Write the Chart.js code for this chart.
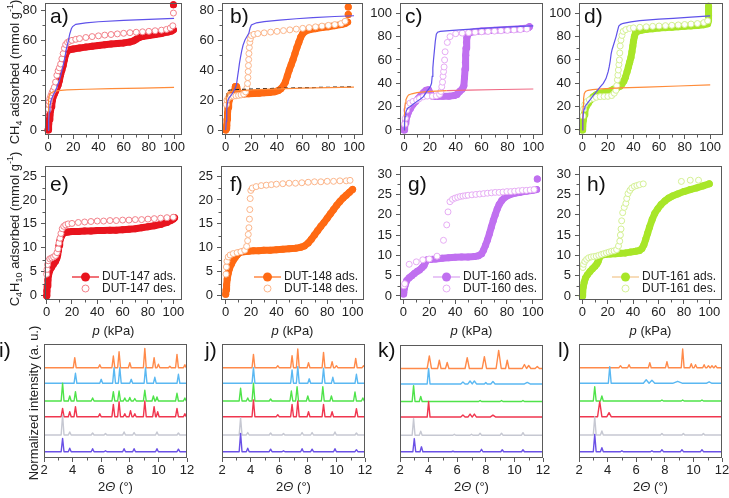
<!DOCTYPE html>
<html>
<head>
<meta charset="utf-8">
<title>CH4 / C4H10 isotherms and PXRD</title>
<script src="https://cdn.jsdelivr.net/npm/chart.js@4.4.0/dist/chart.umd.min.js"></script>
<style>
  body { margin: 0; background: #fff; }
  #fig { position: relative; width: 729px; height: 498px; overflow: hidden;
         font-family: "Liberation Sans", Arial, sans-serif; color: #222; }
  #fig canvas { position: absolute; }
  .lbl { position: absolute; white-space: nowrap; line-height: 1; }
  .panel { font-size: 21px; color: #111; }
  .ytitle { font-size: 13px; transform: translate(-50%, -50%) rotate(-90deg); }
  .xtitle { font-size: 13px; transform: translateX(-50%); }
  sub, sup { font-size: 9px; line-height: 0; }
</style>
</head>
<body>
<div id="fig"></div>
<script>
// ---- tick labels ----
const pTicks = [0, 20, 40, 60, 80, 100];
const pMinor = [10, 30, 50, 70, 90];
const ch4TicksAB = [0, 20, 40, 60, 80];
const ch4MinorAB = [10, 30, 50, 70];
const ch4TicksCD = [0, 20, 40, 60, 80, 100];
const ch4MinorCD = [10, 30, 50, 70, 90];
const c4TicksEF = [0, 5, 10, 15, 20, 25];
const c4MinorEF = [2.5, 7.5, 12.5, 17.5, 22.5];
const c4TicksGH = [0, 5, 10, 15, 20, 25, 30];
const c4MinorGH = [2.5, 7.5, 12.5, 17.5, 22.5, 27.5];
const thetaTicks = [2, 4, 6, 8, 10, 12];
const thetaMinor = [3, 5, 7, 9, 11];

// ---- legend labels ----
const legE = ['DUT-147 ads.', 'DUT-147 des.'];
const legF = ['DUT-148 ads.', 'DUT-148 des.'];
const legG = ['DUT-160 ads.', 'DUT-160 des.'];
const legH = ['DUT-161 ads.', 'DUT-161 des.'];

// ---- CH4 isotherms [p kPa, mmol/g] ----
const a_ads = [[0,0],[0.3,2],[0.6,4],[1,7],[1.5,10],[2,13],[2.5,15.5],[3,18],[3.5,20],[4,22],[5,24],[6,26],[7,28],[8,30],[9,33],[10,37],[11,40],[12,43],[13,47],[14,50.5],[15,52.5],[17,53.5],[20,54],[25,54.7],[30,55.3],[35,55.9],[40,56.4],[45,56.9],[50,57.3],[55,57.7],[60,58.1],[65,58.7],[68,59.5],[70,60.5],[72,61.6],[75,62.4],[80,63],[85,63.7],[90,64.4],[95,65.3],[98,66],[99.5,66.8],[99.5,null],[99.5,83.5]];
const a_des = [[0.3,14],[0.6,17],[1,19],[1.5,21],[2.3,23],[3.2,25],[4,26.5],[5,28.5],[6,32],[7,36.5],[8,39.5],[9,41.5],[10,44],[11,47.5],[12,51],[13,54.5],[14,57],[15.5,58.5],[17,59.2],[19,59.8],[22,60.5],[25,61],[30,61.7],[35,62.3],[40,62.8],[45,63.3],[50,63.7],[55,64.1],[60,64.5],[65,64.9],[70,65.2],[75,65.5],[80,65.8],[85,66.2],[90,66.6],[94,67.1],[97,68],[99,69.5],[99.5,78]];
const a_sim1 = [[0,0],[0.5,6],[1,12],[1.5,16],[2.5,20],[4,23],[5.5,25.5],[7,28.5],[9,33],[10.5,38],[12,43],[13.5,49],[14.5,54],[16,59],[17.2,64],[18.5,67.5],[19.5,69],[22,70.5],[30,71.5],[40,72.2],[60,73.1],[80,73.8],[100,74.4]];
const a_sim2 = [[0,0],[0.3,12],[0.6,20],[1,23],[2,24.5],[4,25.5],[8,26.3],[15,26.8],[30,27.2],[50,27.6],[75,28],[100,28.4]];

const b_ads = [[0,0],[0.4,1],[0.8,3],[1.1,7],[1.4,11],[1.8,15],[2.3,18],[3,20.5],[4,22.5],[5,23.5],[6.5,24.5],[7.5,29],[8.5,29],[10,24],[14,24],[18,24.2],[22,24.4],[26,24.6],[30,24.8],[34,25],[38,25.5],[41,26.3],[43,27.5],[45,29.5],[46.5,32],[48,36],[49.5,40],[51,43.5],[52.5,47],[54,51],[55.5,55],[57,58.5],[58.5,62],[60,64.3],[62,65.8],[65,66.8],[70,67.6],[75,68.3],[80,68.9],[85,69.6],[90,70.3],[93,71],[95,72],[95.5,null],[95.5,77],[95.5,null],[95.5,82]];
const b_des = [[0.5,17],[1,20],[2,21.5],[4,22.3],[6,22.6],[8,22.8],[10,23.1],[12,23.4],[14,24],[15.5,25.5],[16.5,28],[17,31],[17.3,35],[17.5,39],[17.7,43],[17.9,47],[18.1,51],[18.4,55],[18.8,58.5],[19.3,61],[20,63],[22,63.8],[25,64.3],[30,64.8],[35,65.3],[40,65.8],[45,66.3],[50,66.8],[55,67.3],[60,67.8],[65,68.3],[70,68.8],[75,69.3],[80,69.8],[85,70.3],[90,71],[93,72.5]];
const b_sim1 = [[0,0],[0.4,6],[0.8,13],[1.2,17],[1.8,20],[3,22],[4.5,23.5],[6,25.5],[7.5,28],[8.5,31],[9.3,36],[10,40],[10.7,44.5],[11.5,48.5],[12.5,53],[13.5,56.5],[15,60],[17,63],[18,64.5],[19,68],[20,70],[24,71.5],[30,72.3],[42,73.3],[55,74.2],[68,75],[85,75.7],[100,76.2]];
const b_sim2 = [[0,0],[0.3,10],[0.6,20],[1,24],[2,25.3],[4,25.8],[10,26.3],[20,26.8],[40,27.4],[60,27.9],[80,28.3],[100,28.6]];
const b_sim3 = [[0.8,22],[1.2,26],[3,26.6],[10,27],[30,27.6],[60,28.2],[100,28.8]];

const c_ads = [[0,0],[0.5,3],[1,6],[1.5,8.6],[2.5,12.5],[3.5,15.5],[5,18.5],[7,22],[9,24.5],[11,27],[13,29.5],[15,32],[17,34],[19,34.5],[20.5,31],[22,29],[25,28.6],[30,28.8],[35,29],[39,29.5],[41,30.5],[43,33],[45,35],[46.3,38],[46.8,45],[47.2,52],[47.5,58],[47.8,64],[48,70],[48.3,75],[48.7,79],[49.5,82],[51,83.5],[55,84.3],[60,84.8],[70,85.5],[80,86.1],[90,86.8],[96,87.5],[97,88.5]];
const c_des = [[0.5,5],[1,10],[2,17],[3,20.5],[4.6,23],[7,24.5],[9.8,25.7],[12,27],[15,28.5],[18,29],[22,29],[25,29.3],[27.5,30.5],[28.5,33],[29.2,37],[29.8,41],[30.2,46],[30.6,50],[31,54],[31.4,60],[31.8,67],[33.5,75],[35.6,80],[40,82.5],[45,83],[50,83.4],[55,83.8],[60,84.1],[65,84.4],[70,84.7],[75,85],[80,85.3],[85,85.7],[90,86],[95,86.5]];
const c_sim1 = [[0,0],[0.4,6],[0.8,11.4],[1.4,15],[2,17],[3,18.8],[4.6,20],[7,22],[9.8,24.3],[12.5,26.3],[15,28.6],[17.5,32.9],[19,35],[20.5,37.5],[21.3,40],[21.8,46],[22.3,53],[22.8,60],[23.5,68],[24.2,76],[25,82],[26,83.8],[28,84.5],[35,85.2],[43,85.7],[55,86.6],[70,87.7],[85,88.5],[100,89.2]];
const c_sim2 = [[0,0],[0.3,10],[0.6,18],[1,23],[1.5,26],[2.5,28.5],[3.5,30],[6,31],[10,32],[17.5,32.9],[25,33.3],[33,33.7]];
const c_sim3 = [[33,33.7],[50,34.2],[75,34.7],[100,35.1]];

const d_ads = [[0,0],[0.3,3],[0.8,8.6],[1.4,13],[2,17],[3,20],[4.7,23],[6.5,26],[8.6,28.5],[10.5,30],[12.5,31],[14.5,31.5],[16.5,32],[19,32.5],[22,33.5],[24.5,35],[27,36],[29.5,37.5],[31,39.5],[32.5,42],[33.8,45.5],[35,50],[36,54],[37,58],[38,62],[38.8,67],[39.5,72],[40,76],[40.7,80],[41.5,83],[43,84.5],[46,85.5],[50,86.2],[55,86.8],[60,87.3],[65,87.7],[70,88.1],[75,88.5],[80,88.8],[85,89.2],[90,89.6],[95,90.2],[98,91],[98.7,94],[98.7,98],[98.7,102],[98.7,106]];
const d_des = [[0.5,12],[1,18],[2,22],[3.4,24.3],[5.5,25.8],[8.6,27],[11,28],[14,28.6],[17,28.7],[20,28.8],[23,29.5],[25,31.5],[26.3,34],[26.9,38],[27.4,43],[27.8,47],[28.2,51.4],[28.6,56],[29,60],[29.3,66],[29.6,72],[30.2,77],[31,81],[32,84.5],[34,86],[37,87],[40,87.5],[45,88],[50,88.4],[55,88.8],[60,89.1],[65,89.4],[70,89.7],[75,90],[80,90.4],[85,90.8],[90,91.2],[95,92],[98,93.5]];
const d_sim1 = [[0,0],[0.4,8],[0.8,14.3],[1.4,18],[2,20],[4,23],[6,25.7],[8.5,29.5],[11.2,33],[14,37],[16.4,40],[18.5,44],[20.2,50],[21,54],[21.8,59],[22.5,65],[23.3,69],[24.8,74.3],[26.4,80],[27.5,85],[28.5,89],[30,90.5],[32,91.4],[38,92.7],[45,93.7],[60,94.9],[71,95.7],[85,96.7],[100,97.7]];
const d_sim2 = [[0,0],[0.3,10],[0.6,20],[1,27],[1.5,31],[2.5,33],[4.5,34],[8,34.6],[15,35.2],[30,36],[50,36.8],[75,37.7],[100,38.6]];

// ---- C4H10 isotherms [p kPa, mmol/g] ----
const e_ads = [[0,0],[0.2,1],[0.5,2],[1,3.3],[1.5,4.3],[2.5,5.3],[4,6],[5.5,6.6],[7,7.2],[8,7.8],[8.7,8.5],[9.3,9.5],[9.8,10.5],[10.3,11.3],[11,12],[12,12.6],[13,13],[14.5,13.2],[17,13.3],[20,13.4],[25,13.4],[30,13.5],[35,13.5],[40,13.6],[45,13.6],[50,13.7],[55,13.7],[60,13.8],[65,13.9],[70,14],[75,14.2],[80,14.4],[85,14.6],[90,14.9],[95,15.3],[98,15.7],[100,16],[101,16.3]];
const e_des = [[0,4.5],[0.3,5.5],[0.7,6.5],[1.3,7.3],[2.5,7.7],[4,7.9],[5.5,8.1],[7,8.4],[8.2,9],[9,9.8],[9.7,11],[10.5,12],[11.3,13],[12.3,14],[13.5,14.5],[15,14.8],[17,15],[20,15.1],[25,15.3],[30,15.4],[35,15.5],[40,15.6],[45,15.6],[50,15.7],[55,15.7],[60,15.8],[65,15.8],[70,15.9],[75,15.9],[80,16],[85,16.1],[90,16.2],[95,16.3],[100,16.4]];
const f_ads = [[0,0.3],[0.3,1.2],[0.7,2.2],[1.2,3.5],[2,4.7],[3,5.7],[4.5,6.6],[6,7.4],[7.5,8],[9,8.5],[11,9],[14,9.2],[18,9.3],[22,9.4],[26,9.4],[30,9.5],[35,9.5],[40,9.6],[45,9.7],[50,9.8],[55,9.9],[59,10.1],[62,10.4],[65,11],[67.5,11.8],[70,12.7],[72.5,13.6],[75,14.5],[77.5,15.3],[80,16.2],[82.5,17.1],[85,18],[87.5,18.9],[90,19.7],[92.5,20.4],[95,21],[97.5,21.6],[100,22.2]];
const f_des = [[0.2,4.5],[0.5,6],[1,7.2],[2,8.1],[3.5,8.5],[6,8.8],[9,9],[12,9.2],[15,9.5],[16.5,10.3],[17.3,11.5],[17.8,12.8],[18.3,14.2],[18.7,16],[19,18],[19.3,20.3],[19.8,22],[21,22.5],[24,22.8],[28,23],[32,23.1],[36,23.2],[40,23.3],[45,23.4],[50,23.5],[55,23.5],[60,23.6],[65,23.7],[70,23.8],[75,23.8],[80,23.9],[85,23.9],[90,24],[95,24],[98,24.1]];
const g_ads = [[0,0.5],[0.3,0.9],[0.8,1.9],[1.5,2.8],[2.6,3.8],[4.5,4.5],[6.5,5],[8.5,5.5],[10.5,6],[12.5,6.4],[14.5,7],[16,7.5],[17,8.3],[18.5,8.9],[21,9],[25,9.1],[30,9.3],[35,9.4],[40,9.5],[45,9.6],[50,9.6],[55,9.7],[58,9.9],[60.5,10.4],[62,11.3],[63.5,12.5],[65,13.8],[66.5,15.3],[68,17],[69.5,18.6],[71,20],[72.5,21.4],[74,22.5],[76,23.5],[78.5,24.3],[82,24.9],[86,25.3],[90,25.5],[95,25.8],[100,26],[103,26.2],[103.5,null],[103.5,28.8]];
const g_des = [[0.3,2.5],[1,3],[4.5,7.8],[10,8.4],[15,8.9],[20,9.1],[26,9.8],[31,13.7],[33.5,17.5],[34.5,20.7],[36,23.2],[38,23.8],[40,24.1],[42,24.3],[44,24.5],[46,24.6],[48,24.7],[50,24.8],[53,24.9],[56,25],[59,25.1],[62,25.2],[65,25.3],[68,25.4],[71,25.5],[74,25.5],[77,25.6],[80,25.7],[83,25.7],[86,25.8],[89,25.9],[92,26],[95,26],[98,26.1],[101,26.2]];
const h_ads = [[0,0],[0.3,1],[0.8,2.3],[1.5,3.4],[2.5,4.4],[4,5.2],[6,6],[8,6.7],[10,7.3],[11.5,7.9],[12.5,8.5],[13.2,9.2],[14,9.8],[15.5,10.1],[18,10.2],[22,10.3],[26,10.4],[30,10.5],[34,10.6],[38,10.8],[42,11],[45,11.2],[47,11.7],[48.5,12.6],[50,14],[51.5,15.5],[53,17],[55,18.8],[57,20.3],[59.5,21.5],[62,22.5],[65,23.4],[68,24.1],[71,24.6],[75,25.1],[80,25.7],[85,26.2],[90,26.6],[95,27.1],[100,27.6]];
const h_des = [[0.5,7],[1,7.8],[2,8.5],[3.4,9],[5,9.4],[7,9.6],[9,9.7],[11,9.8],[13,10],[15,10.2],[17,10.4],[19,10.6],[21,10.8],[23,11],[25,11.1],[27,11.4],[28.5,12.3],[29.5,13.5],[30,15],[30.5,16.5],[31,18.5],[31.8,20.5],[33,21.8],[34.3,22.8],[35,24],[36,25.2],[37.5,26],[39,26.6],[41,27],[43,27.2],[45,27.4],[48,27.6],[78,28.2],[85,28.5],[91.5,28.5]];

// ---- PXRD peaks [2theta, height, (breadth)], traces bottom to top ----
const i_blue = [[3.3,1.33],[3.8,0.35],[5.4,0.3],[6.3,0.1],[7.6,0.3],[8.3,0.3],[9.9,0.3],[11.4,0.25]];
const i_gray = [[3.3,2.0],[3.8,0.3],[5.4,0.2],[6.3,0.15],[7.6,0.3],[8.3,0.25],[9.9,0.3],[11.4,0.2]];
const i_red = [[3.3,0.83],[3.8,0.5],[4.2,1.0],[5.9,0.3],[6.85,1.23],[7.25,1.5],[7.65,0.3],[8.05,0.6],[8.35,0.3],[9.05,1.57],[9.7,1.0],[9.95,0.5],[11.3,0.83],[11.85,0.3]];
const i_green = [[3.3,1.77],[3.8,0.5],[4.2,0.93],[5.4,0.3],[6.85,0.93],[7.25,1.0],[7.65,0.3],[8.0,0.35],[8.35,0.25],[9.05,1.07],[9.65,0.5],[9.9,0.4],[11.3,0.77],[11.85,0.3]];
const i_lblue = [[4.2,1.0],[6.0,0.4],[6.9,1.57],[7.3,1.57],[8.1,0.4],[9.1,1.57],[9.75,0.6],[11.4,0.9]];
const i_orange = [[4.15,1.0],[5.9,0.3],[6.85,1.17],[7.25,1.6],[8.0,0.5],[9.05,1.93],[9.7,1.0],[10.0,0.35],[10.8,0.15],[11.3,1.33],[11.85,0.3]];

const j_blue = [[3.3,1.83],[3.8,0.35],[5.4,0.25],[6.3,0.1],[7.6,0.3],[8.3,0.25],[9.9,0.3],[11.4,0.2]];
const j_gray = [[3.3,1.73],[3.8,0.25],[5.4,0.2],[6.3,0.15],[7.6,0.25],[8.3,0.25],[9.9,0.3],[11.4,0.2]];
const j_red = [[4.2,1.67],[5.9,0.2],[6.9,1.23],[7.3,1.57],[8.05,0.5],[9.1,1.23],[9.7,0.5],[11.4,0.8]];
const j_green = [[3.3,1.27],[3.8,0.3],[4.2,1.77],[5.4,0.2],[6.85,1.0],[7.25,1.43],[8.0,0.5],[9.05,1.43],[9.65,0.5],[11.3,0.9],[11.85,0.3]];
const j_lblue = [[4.2,1.57],[6.9,1.33],[7.3,1.67],[8.1,0.45],[9.1,1.5],[9.75,0.6],[11.4,0.9]];
const j_orange = [[4.2,1.33],[5.9,0.2],[6.9,1.2],[7.3,1.87],[8.05,0.5],[9.1,1.53],[9.7,0.6],[10.0,0.2],[11.35,0.93],[11.9,0.2]];

const k_blue = [[3.0,1.33],[3.5,0.5],[5.7,0.05],[7.7,0.25],[9.15,0.2],[10.6,0.2]];
const k_gray = [[2.95,1.67],[3.45,0.4],[5.8,0.1],[7.0,0.1],[7.6,0.2],[9.1,0.2],[10.6,0.25]];
const k_red = [[4.0,1.57],[6.4,0.2,0.15],[6.9,0.3,0.15],[7.2,0.3,0.15],[8.5,0.2,0.2]];
const k_green = [[2.95,1.6],[3.45,0.5],[7.6,0.1],[9.1,0.1],[10.6,0.1]];
const k_lblue = [[4.0,1.57],[6.4,0.2,0.15],[6.9,0.3,0.15],[7.2,0.3,0.15],[8.0,0.15],[8.5,0.25,0.15],[10.9,0.15,0.2]];
const k_orange = [[4.05,1.27,0.15],[4.75,0.83,0.12],[5.3,0.6,0.12],[6.7,1.1,0.15],[7.9,1.2,0.15],[8.9,1.83,0.18],[9.5,0.83,0.12],[10.7,0.4,0.15],[11.0,0.3,0.15],[11.6,0.2,0.15]];

const l_blue = [[3.1,1.73],[3.6,0.4],[5.0,0.1],[7.1,0.1],[7.8,0.2],[9.2,0.2],[10.6,0.2]];
const l_gray = [[3.1,1.83],[3.6,0.4],[7.8,0.15],[9.3,0.15],[10.7,0.15]];
const l_red = [[3.45,1.5,0.15],[4.1,0.4,0.15]];
const l_green = [[3.1,1.43],[3.6,0.5],[7.8,0.1],[9.25,0.1],[10.6,0.1]];
const l_lblue = [[4.15,1.67],[6.7,0.35,0.2],[7.1,0.3,0.2],[8.9,0.2,0.35],[11.1,0.15,0.2]];
const l_orange = [[4.9,0.2],[5.5,0.3],[6.95,0.5],[8.15,0.6],[9.25,1.87],[9.85,0.4],[10.15,0.3],[10.75,0.3],[11.05,0.2],[11.3,0.2],[11.55,0.2]];

// ---- drawing ----
const FONT = '"Liberation Sans", Arial, sans-serif';
const AXIS = '#5a5a5a';
const fig = document.getElementById('fig');
Chart.defaults.font.family = FONT;

const RED = '#e8141e', RED2 = '#f28089';
const ORA = '#ff6a13', ORA2 = '#fbb58a';
const PUR = '#c070f0', PUR2 = '#e6acf4';
const GRN = '#a8e628', GRN2 = '#d4f094';
const SIMB = '#5f52ea', SIMO = '#ff8c3a', SIMP = '#f06b86';
const XRD_COLORS = ['#6a50e6', '#c6c8d2', '#f0364f', '#4fe34a', '#5ab8f2', '#ff8a4a'];
const XRD_BASE = [0.63, 2.3, 4.13, 5.7, 7.47, 9.03];

const pts = arr => arr.map(([x, y]) => ({x, y}));

function ads(data, color) {
  return [
    {data: pts(data), showLine: true, borderColor: color, borderWidth: 7, pointRadius: 0,
     borderCapStyle: 'round', borderJoinStyle: 'round', order: 4, clip: 5},
    {data: pts(data), showLine: false, pointRadius: 3.5, pointBackgroundColor: color,
     pointBorderColor: color, pointBorderWidth: 0, order: 3, clip: 5}
  ];
}
function des(data, color) {
  return {data: pts(data), showLine: false, pointRadius: 3, pointBackgroundColor: '#fff',
          pointBorderColor: color, pointBorderWidth: 1, order: 2, clip: 5};
}
function sim(data, color, dash) {
  return {data: pts(data), showLine: true, borderColor: color, borderWidth: 1.2,
          borderDash: dash || [], pointRadius: 0, order: 1};
}
function xrd(traces) {
  return traces.map((peaks, k) => {
    const base = XRD_BASE[k];
    const d = [{x: 2, y: base}];
    peaks.forEach(([c, h, w]) => {
      w = w || 0.1;
      d.push({x: c - w, y: base}, {x: c, y: base + h}, {x: c + w, y: base});
    });
    d.push({x: 12, y: base});
    return {data: d, showLine: true, borderColor: XRD_COLORS[k], borderWidth: 1.4,
            borderJoinStyle: 'round', pointRadius: 0};
  });
}

function axis(range, ticks, dir, show) {
  return {
    type: 'linear', min: range[0], max: range[1],
    afterBuildTicks: s => { s.ticks = ticks.map(v => ({value: v})); },
    afterFit: s => {
      if (dir === 'x') s.height = 24; else s.width = 40;
      s.paddingLeft = s.paddingRight = s.paddingTop = s.paddingBottom = 0;
    },
    border: {display: false},
    grid: {display: show, drawOnChartArea: false, drawTicks: true, tickLength: 4, color: AXIS, lineWidth: 1},
    ticks: {display: show, autoSkip: false, maxRotation: 0, padding: dir === 'x' ? 1 : 4,
            color: '#222', font: {family: FONT, size: 13}}
  };
}

function framePlugin(cfg) {
  return {
    id: 'frame',
    afterDraw(chart) {
      const {ctx, chartArea: a, scales: {x, y}} = chart;
      ctx.save();
      ctx.strokeStyle = AXIS; ctx.lineWidth = 1;
      ctx.strokeRect(a.left + 0.5, a.top + 0.5, a.right - a.left - 1, a.bottom - a.top - 1);
      ctx.beginPath();
      (cfg.xMinor || []).forEach(v => {
        const px = Math.round(x.getPixelForValue(v)) + 0.5;
        ctx.moveTo(px, a.bottom); ctx.lineTo(px, a.bottom + 2.5);
      });
      (cfg.yMinor || []).forEach(v => {
        const py = Math.round(y.getPixelForValue(v)) + 0.5;
        ctx.moveTo(a.left, py); ctx.lineTo(a.left - 2.5, py);
      });
      ctx.stroke();
      if (cfg.legend) {
        const L = cfg.legend, x0 = a.right - 110, tx = a.right - 80;
        ctx.font = '12px ' + FONT; ctx.textBaseline = 'middle';
        L.labels.forEach((txt, i) => {
          const cy = a.bottom - 23 + i * 11.5;
          if (i === 0) {
            ctx.strokeStyle = L.line; ctx.lineWidth = 1.2;
            ctx.beginPath(); ctx.moveTo(x0, cy); ctx.lineTo(x0 + 27, cy); ctx.stroke();
            ctx.fillStyle = L.ads;
            ctx.beginPath(); ctx.arc(x0 + 13.5, cy, 4.5, 0, Math.PI * 2); ctx.fill();
          } else {
            ctx.strokeStyle = L.des; ctx.lineWidth = 1; ctx.fillStyle = '#fff';
            ctx.beginPath(); ctx.arc(x0 + 13.5, cy, 3.5, 0, Math.PI * 2); ctx.fill(); ctx.stroke();
          }
          ctx.fillStyle = '#222';
          ctx.fillText(txt, tx, cy);
        });
      }
      ctx.restore();
    }
  };
}

function panel(frame, xr, yr, xt, yt, datasets, cfg, showY) {
  const [L, T, R, B] = frame;
  const W = R - L + 56, H = B - T + 34;
  const cv = document.createElement('canvas');
  cv.width = W; cv.height = H;
  cv.style.left = (L - 40) + 'px'; cv.style.top = (T - 10) + 'px';
  cv.style.width = W + 'px'; cv.style.height = H + 'px';
  fig.appendChild(cv);
  new Chart(cv, {
    type: 'scatter',
    data: {datasets},
    options: {
      responsive: false, animation: false, devicePixelRatio: 1,
      layout: {padding: {left: 0, top: 10, right: 16, bottom: 0}},
      plugins: {legend: {display: false}, tooltip: {enabled: false}},
      scales: {x: axis(xr, xt, 'x', true), y: axis(yr, yt, 'y', showY !== false)}
    },
    plugins: [framePlugin(cfg)]
  });
}

function text(html, cls, left, top) {
  const d = document.createElement('div');
  d.className = 'lbl ' + cls; d.innerHTML = html;
  d.style.left = left + 'px'; d.style.top = top + 'px';
  fig.appendChild(d);
}

// row 1: CH4
panel([45, 3, 182, 135], [-2.4, 106.3], [-3.3, 84.7], pTicks, ch4TicksAB,
  [...ads(a_ads, RED), des(a_des, RED2), sim(a_sim1, SIMB), sim(a_sim2, SIMO)],
  {xMinor: pMinor, yMinor: ch4MinorAB});
panel([222, 3, 363, 135], [-2.9, 107], [-3.3, 84.7], pTicks, ch4TicksAB,
  [...ads(b_ads, ORA), des(b_des, ORA2), sim(b_sim1, SIMB), sim(b_sim2, SIMO), sim(b_sim3, '#222', [4, 3])],
  {xMinor: pMinor, yMinor: ch4MinorAB});
panel([400, 3, 543, 135], [-3.1, 107.5], [-4.3, 108.8], pTicks, ch4TicksCD,
  [...ads(c_ads, PUR), des(c_des, PUR2), sim(c_sim1, SIMB), sim(c_sim2, SIMO), sim(c_sim3, SIMP)],
  {xMinor: pMinor, yMinor: ch4MinorCD});
panel([579, 3, 723, 135], [-2.6, 110], [-4.3, 108.8], pTicks, ch4TicksCD,
  [...ads(d_ads, GRN), des(d_des, GRN2), sim(d_sim1, SIMB), sim(d_sim2, SIMO)],
  {xMinor: pMinor, yMinor: ch4MinorCD});

// row 2: C4H10
panel([45, 166, 182, 300], [-1.3, 106.9], [-0.9, 27.1], pTicks, c4TicksEF,
  [...ads(e_ads, RED), des(e_des, RED2)],
  {xMinor: pMinor, yMinor: c4MinorEF, legend: {labels: legE, line: RED, ads: RED, des: RED2}});
panel([221, 166, 364, 300], [-3.7, 109], [-0.9, 27.1], pTicks, c4TicksEF,
  [...ads(f_ads, ORA), des(f_des, ORA2)],
  {xMinor: pMinor, yMinor: c4MinorEF, legend: {labels: legF, line: ORA, ads: ORA, des: ORA2}});
panel([400, 166, 543, 300], [-2.6, 107.9], [-1, 32], pTicks, c4TicksGH,
  [...ads(g_ads, PUR), des(g_des, PUR2)],
  {xMinor: pMinor, yMinor: c4MinorGH, legend: {labels: legG, line: '#d9a2f0', ads: PUR, des: PUR2}});
panel([579, 166, 722, 300], [-2.6, 110], [-1, 32], pTicks, c4TicksGH,
  [...ads(h_ads, GRN), des(h_des, GRN2)],
  {xMinor: pMinor, yMinor: c4MinorGH, legend: {labels: legH, line: '#f2c58a', ads: GRN, des: GRN2}});

// row 3: PXRD
panel([44, 344, 187, 458], [2, 12], [0, 11.4], thetaTicks, [0],
  xrd([i_blue, i_gray, i_red, i_green, i_lblue, i_orange]), {xMinor: thetaMinor}, false);
panel([222, 344, 365, 458], [2, 12], [0, 11.4], thetaTicks, [0],
  xrd([j_blue, j_gray, j_red, j_green, j_lblue, j_orange]), {xMinor: thetaMinor}, false);
panel([400, 345, 543, 458], [2, 12], [0, 11.4], thetaTicks, [0],
  xrd([k_blue, k_gray, k_red, k_green, k_lblue, k_orange]), {xMinor: thetaMinor}, false);
panel([579, 344, 722, 458], [2, 12], [0, 11.4], thetaTicks, [0],
  xrd([l_blue, l_gray, l_red, l_green, l_lblue, l_orange]), {xMinor: thetaMinor}, false);

// titles and panel letters
text('CH<sub>4</sub> adsorbed (mmol g<sup>-1</sup>)', 'ytitle', 14, 72);
text('C<sub>4</sub>H<sub>10</sub> adsorbed (mmol g<sup>-1</sup>)', 'ytitle', 14, 229);
text('Normalized intensity (a. u.)', 'ytitle', 33, 403);
[[45, 182], [221, 364], [400, 543], [579, 722]].forEach(([l, r]) => {
  text('<i>p</i> (kPa)', 'xtitle', (l + r) / 2, 324);
});
[[44, 187], [222, 365], [400, 543], [579, 722]].forEach(([l, r]) => {
  text('2<i>Θ</i> (°)', 'xtitle', (l + r) / 2, 480);
});
[['a)', 50, 5], ['b)', 230, 5], ['c)', 405, 5], ['d)', 584, 5],
 ['e)', 50, 173], ['f)', 230, 173], ['g)', 408, 173], ['h)', 587, 173],
 ['i)', -1, 339], ['j)', 205, 339], ['k)', 378, 339], ['l)', 558, 339]].forEach(([t, l, tp]) => {
  text(t, 'panel', l, tp);
});
</script>
</body>
</html>
